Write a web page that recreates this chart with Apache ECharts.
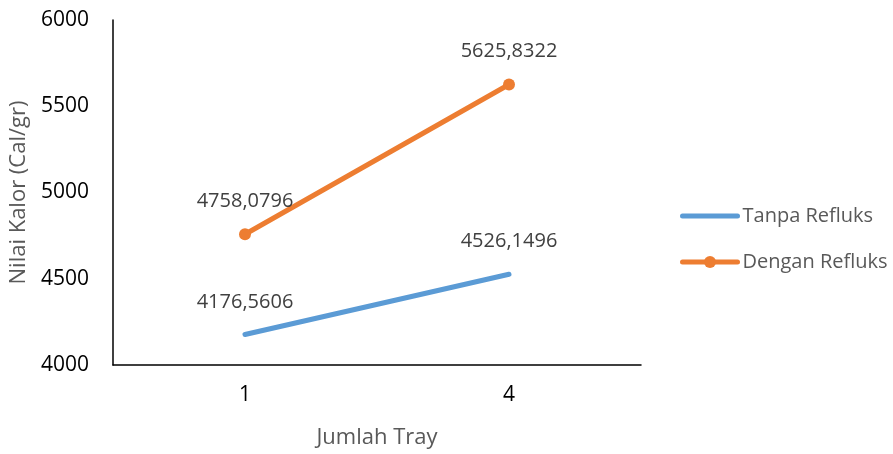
<!DOCTYPE html>
<html>
<head>
<meta charset="utf-8">
<script src="https://cdn.jsdelivr.net/npm/echarts@6/dist/echarts.min.js"></script>
<style>
html,body{margin:0;padding:0;background:#fff;}
#chart{width:893px;height:454px;}
</style>
</head>
<body>
<div id="chart"></div>
<script>
// Calorific value by number of trays
const trays = ['1', '4'];
const tanpaRefluks = [4176.5606, 4526.1496];
const denganRefluks = [4758.0796, 5625.8322];
const yTicks = { min: 4000, max: 6000, step: 500 };

const fontFamily = '"Open Sans", Lato, sans-serif';
const fmt = v => v.toFixed(4).replace('.', ',');

const chart = echarts.init(document.getElementById('chart'));
chart.setOption({
  animation: false,
  textStyle: { fontFamily },
  grid: { left: 113, right: 252, top: 20, bottom: 86 },
  legend: {
    orient: 'vertical',
    left: 680,
    top: 206,
    padding: 0,
    itemWidth: 55,
    itemHeight: 15,
    itemGap: 26,
    textStyle: { fontSize: 20, color: '#595959', fontFamily },
    data: [
      { name: 'Tanpa Refluks', lineStyle: { width: 5 } },
      { name: 'Dengan Refluks', lineStyle: { width: 5 } }
    ]
  },
  xAxis: {
    type: 'category',
    data: trays,
    boundaryGap: true,
    name: 'Jumlah Tray',
    nameLocation: 'middle',
    nameGap: 62,
    nameTextStyle: { fontSize: 22, color: '#595959' },
    axisLine: { lineStyle: { color: '#000', width: 1.5 } },
    axisTick: { show: false },
    axisLabel: { fontSize: 21, color: '#000', margin: 20 }
  },
  yAxis: {
    type: 'value',
    min: yTicks.min,
    max: yTicks.max,
    interval: yTicks.step,
    name: 'Nilai Kalor (Cal/gr)',
    nameLocation: 'middle',
    nameGap: 83,
    nameTextStyle: { fontSize: 22, color: '#595959' },
    axisLine: { show: true, lineStyle: { color: '#000', width: 1.5 } },
    axisTick: { show: false },
    splitLine: { show: false },
    axisLabel: { fontSize: 21, color: '#000', margin: 24, formatter: v => String(v) }
  },
  series: [
    {
      name: 'Tanpa Refluks',
      type: 'line',
      data: tanpaRefluks,
      symbol: 'circle',
      symbolSize: 1,
      lineStyle: { color: '#5B9BD5', width: 5, cap: 'round' },
      itemStyle: { color: 'rgba(0,0,0,0)' },
      label: {
        show: true, position: 'top', distance: 22,
        fontSize: 20, color: '#404040',
        formatter: p => fmt(p.value)
      }
    },
    {
      name: 'Dengan Refluks',
      type: 'line',
      data: denganRefluks,
      symbol: 'circle',
      symbolSize: 12,
      lineStyle: { color: '#ED7D31', width: 5, cap: 'round' },
      itemStyle: { color: '#ED7D31' },
      label: {
        show: true, position: 'top', distance: 17,
        fontSize: 20, color: '#404040',
        formatter: p => fmt(p.value)
      }
    }
  ]
});
</script>
</body>
</html>
